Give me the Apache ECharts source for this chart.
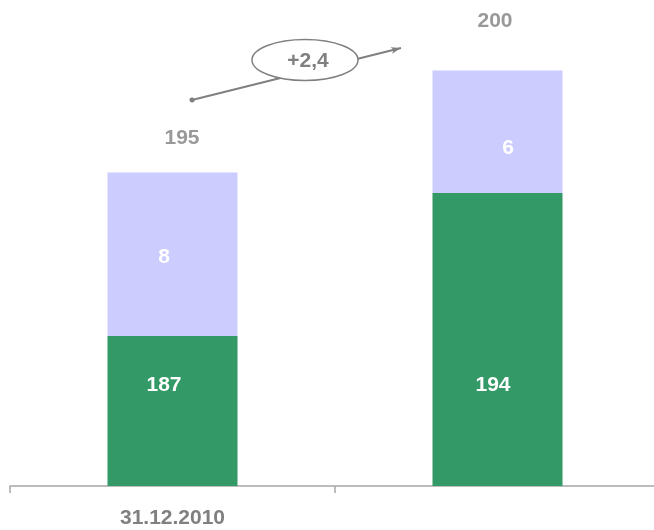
<!DOCTYPE html>
<html>
<head>
<meta charset="utf-8">
<script src="https://cdn.jsdelivr.net/npm/echarts@6/dist/echarts.min.js"></script>
<style>
html,body{margin:0;padding:0;background:#fff;}
#chart{width:654px;height:530px;}
</style>
</head>
<body>
<div id="chart"></div>
<script>
var categories = ['31.12.2010', ''];
var baseValues = [187, 194];
var topValues = [8, 6];
var totals = [195, 200];
var changeLabel = '+2,4';

var FONT = '"Liberation Sans", Arial, sans-serif';
var GRAY = '#808080';

var chart = echarts.init(document.getElementById('chart'));

var baseOffsets = [[-8.5, -26], [-4.5, 45.5]];
var topOffsets = [[-8.5, 3], [10.5, 16]];
var totalOffsets = [[9.5, -34.6], [-2.5, -49.4]];

function items(vals, offs) {
  return vals.map(function (v, i) {
    return { value: v, label: { offset: offs[i] } };
  });
}

chart.setOption({
  animation: false,
  backgroundColor: '#fff',
  grid: { left: 10, width: 650, top: 0, bottom: 44, outerBoundsMode: 'none', containLabel: false },
  xAxis: {
    type: 'category',
    data: categories,
    axisLine: { lineStyle: { color: '#a6a6a6', width: 1.5 } },
    axisTick: { show: true, length: 7, lineStyle: { color: '#a6a6a6', width: 1.5 } },
    axisLabel: { color: GRAY, fontWeight: 'bold', fontSize: 21, fontFamily: FONT, margin: 22 }
  },
  yAxis: {
    type: 'value',
    min: 179.65,
    max: 203.45,
    show: false,
    splitLine: { show: false }
  },
  series: [
    {
      type: 'bar',
      stack: 'a',
      barWidth: 130,
      data: items(baseValues, baseOffsets),
      itemStyle: { color: '#339966' },
      label: { show: true, position: 'inside', color: '#fff', fontWeight: 'bold', fontSize: 21, fontFamily: FONT }
    },
    {
      type: 'bar',
      stack: 'a',
      barWidth: 130,
      data: items(topValues, topOffsets),
      itemStyle: { color: '#ccccff' },
      label: { show: true, position: 'inside', color: '#fff', fontWeight: 'bold', fontSize: 21, fontFamily: FONT }
    },
    {
      type: 'scatter',
      symbolSize: 0,
      data: items(totals, totalOffsets),
      label: { show: true, position: 'inside', color: GRAY, fontWeight: 'bold', fontSize: 21, fontFamily: FONT },
      markLine: {
        silent: true,
        symbol: ['circle', 'arrow'],
        symbolSize: [5, 10],
        label: { show: false },
        lineStyle: { color: GRAY, width: 2, type: 'solid' },
        data: [[{ x: 192, y: 100 }, { x: 401, y: 48 }]]
      }
    }
  ],
  graphic: [
    {
      type: 'ellipse',
      shape: { cx: 305, cy: 60, rx: 53, ry: 20.5 },
      style: { fill: '#fff', stroke: GRAY, lineWidth: 1.5 },
      z: 100
    },
    {
      type: 'text',
      x: 308, y: 61,
      style: { text: changeLabel, fill: GRAY, font: 'bold 21px ' + FONT, align: 'center', verticalAlign: 'middle' },
      z: 101
    }
  ]
});
</script>
</body>
</html>
